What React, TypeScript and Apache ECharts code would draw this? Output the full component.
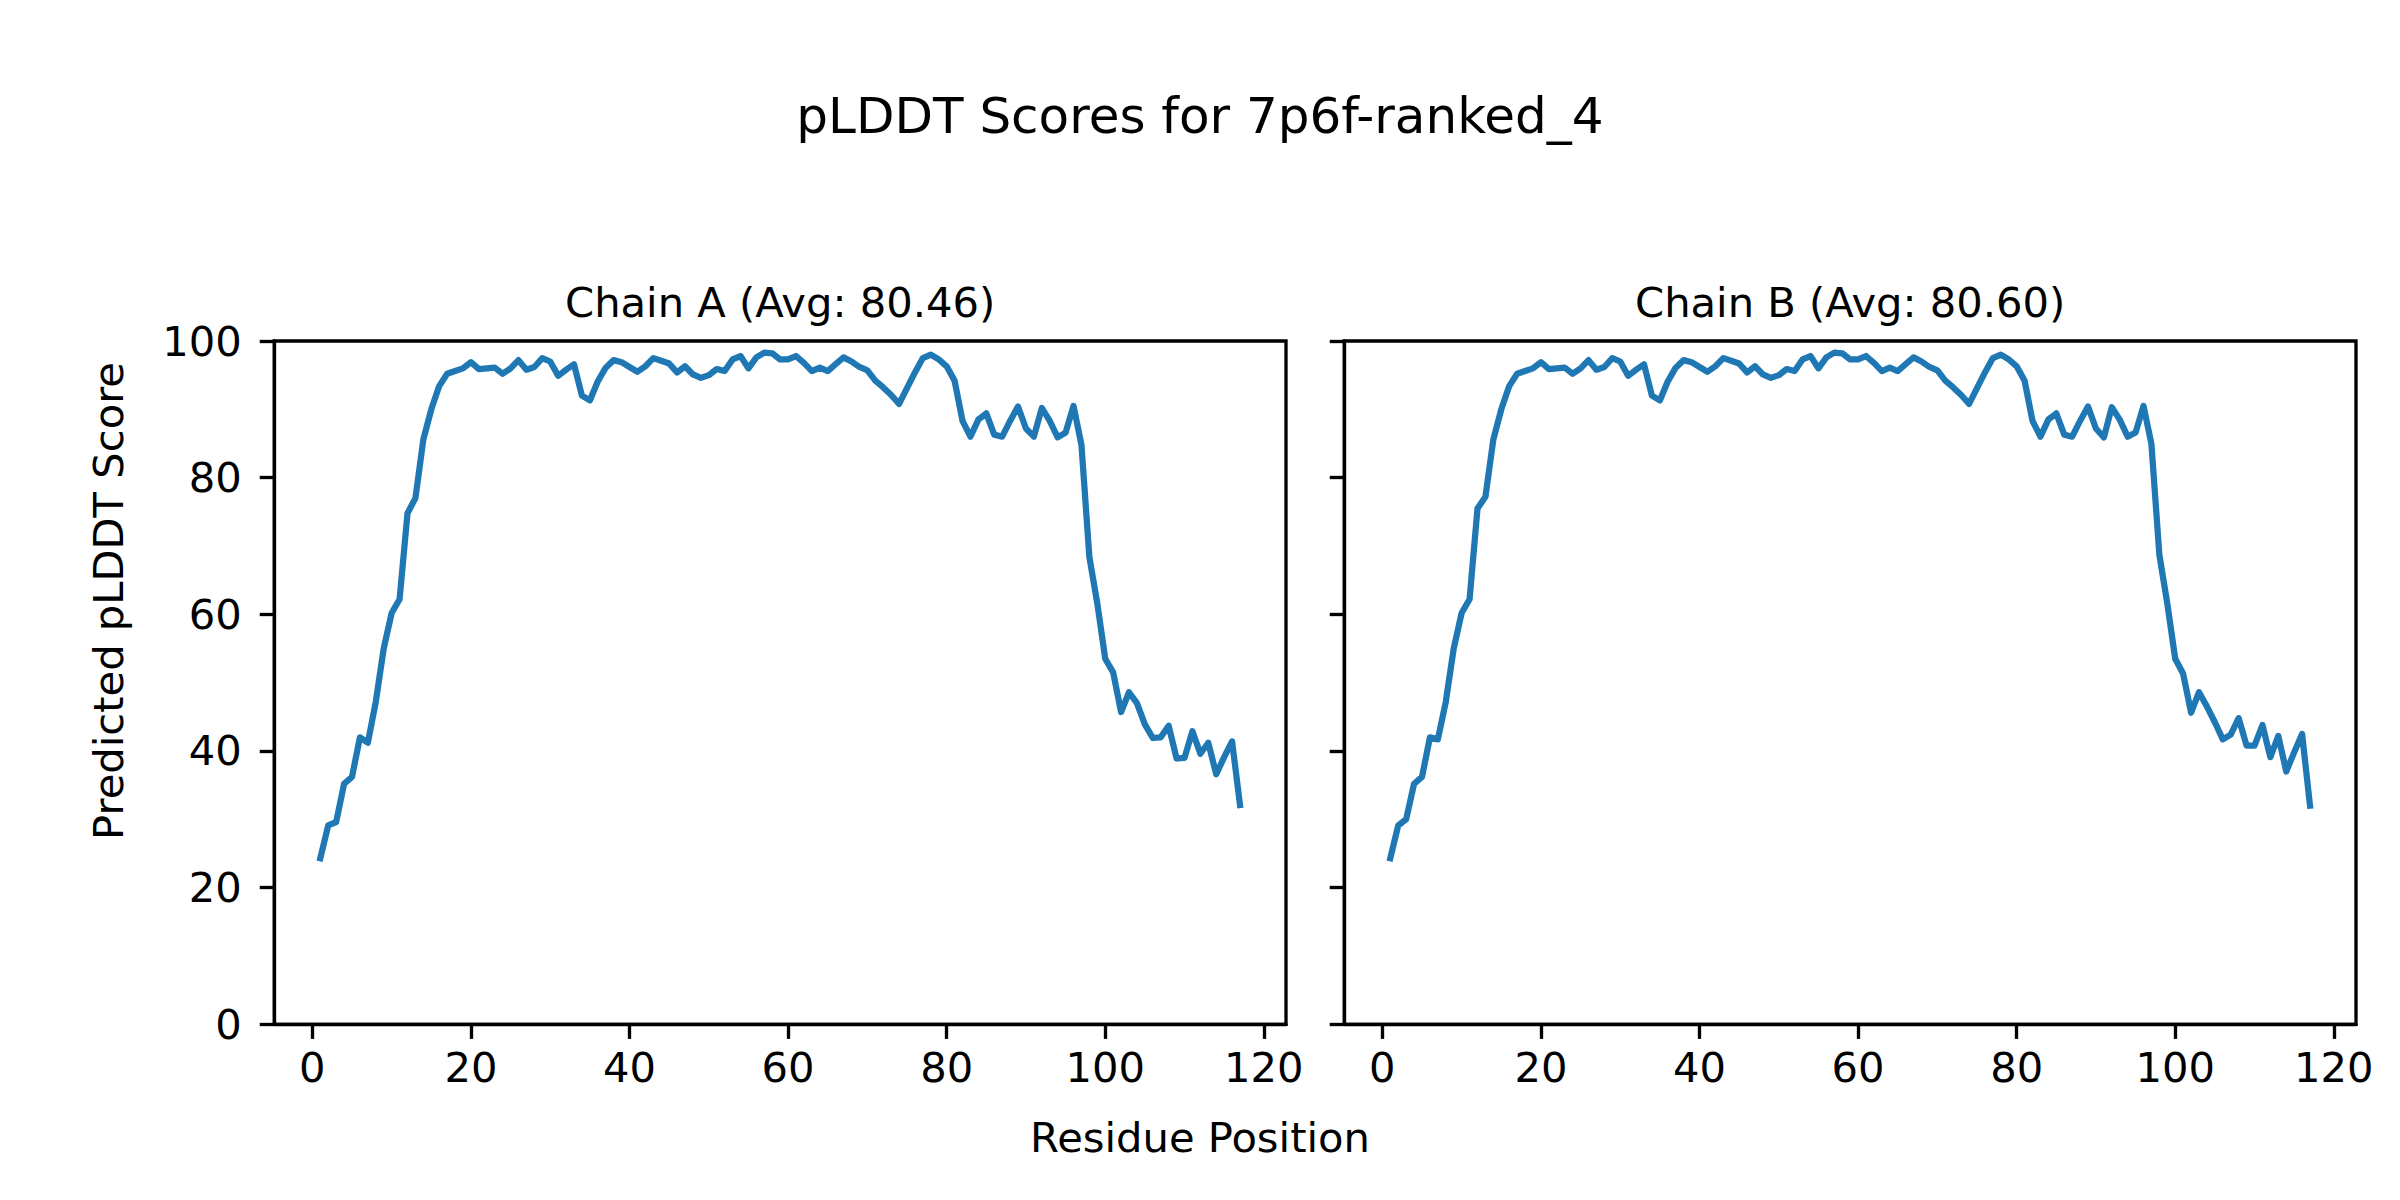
import React, { useEffect, useRef } from "react";
import * as echarts from "echarts";

const mainTitle = "pLDDT Scores for 7p6f-ranked_4";
const chainTitles = ["Chain A (Avg: 80.46)", "Chain B (Avg: 80.60)"];
const xAxisLabel = "Residue Position";
const yAxisLabel = "Predicted pLDDT Score";
const xTicks = [0, 20, 40, 60, 80, 100, 120];

const chainA = [
  24.3, 29.1, 29.6, 35.2, 36.2, 42.0, 41.2, 47.2, 55.0, 60.2,
  62.2, 74.8, 77.0, 85.6, 90.0, 93.4, 95.2, 95.6, 96.0, 96.9,
  95.9, 96.0, 96.1, 95.2, 96.0, 97.2, 95.8, 96.2, 97.5, 97.0,
  94.9, 95.8, 96.6, 92.0, 91.3, 94.1, 96.1, 97.2, 96.9, 96.2,
  95.5, 96.3, 97.5, 97.1, 96.7, 95.4, 96.3, 95.1, 94.6, 95.0,
  95.9, 95.6, 97.3, 97.8, 96.0, 97.6, 98.3, 98.2, 97.3, 97.3,
  97.8, 96.8, 95.6, 96.1, 95.6, 96.6, 97.6, 97.0, 96.2, 95.7,
  94.2, 93.2, 92.1, 90.8, 93.1, 95.4, 97.5, 98.0, 97.3, 96.3,
  94.2, 88.3, 86.0, 88.5, 89.4, 86.3, 86.0, 88.3, 90.4, 87.2,
  86.0, 90.2, 88.3, 85.9, 86.6, 90.5, 84.8, 68.4, 61.6, 53.5,
  51.5, 45.7, 48.6, 47.0, 43.9, 41.9, 42.0, 43.7, 38.9, 39.0,
  42.9, 39.6, 41.2, 36.6, 39.1, 41.4, 32.1,
];

const chainB = [
  24.3, 29.1, 30.0, 35.2, 36.2, 42.0, 41.7, 47.2, 55.0, 60.2,
  62.2, 75.5, 77.2, 85.6, 90.0, 93.4, 95.2, 95.6, 96.0, 96.9,
  95.9, 96.0, 96.1, 95.2, 96.0, 97.2, 95.8, 96.2, 97.5, 97.0,
  94.9, 95.8, 96.6, 92.0, 91.3, 94.1, 96.1, 97.2, 96.9, 96.2,
  95.5, 96.3, 97.5, 97.1, 96.7, 95.4, 96.3, 95.1, 94.6, 95.0,
  95.9, 95.6, 97.3, 97.8, 96.0, 97.6, 98.3, 98.2, 97.3, 97.3,
  97.8, 96.8, 95.6, 96.1, 95.6, 96.6, 97.6, 97.0, 96.2, 95.7,
  94.2, 93.2, 92.1, 90.8, 93.1, 95.4, 97.5, 98.0, 97.3, 96.3,
  94.2, 88.3, 86.0, 88.5, 89.4, 86.3, 86.0, 88.3, 90.4, 87.2,
  85.9, 90.3, 88.5, 86.0, 86.6, 90.5, 84.9, 68.7, 61.6, 53.5,
  51.3, 45.6, 48.6, 46.5, 44.2, 41.7, 42.4, 44.8, 40.8, 40.8,
  43.8, 39.1, 42.2, 37.0, 39.8, 42.5, 32.0,
];

const FONT = "DejaVu Sans";
const PT = 300 / 72;

export default function App() {
  const ref = useRef<HTMLDivElement>(null);

  useEffect(() => {
    document.body.style.margin = "0";
    if (!ref.current) return;
    const chart = echarts.init(ref.current, undefined, { renderer: "svg" });

    const grids = [
      { left: 274.3, top: 341, width: 1011.7, height: 683.3 },
      { left: 1344.3, top: 341, width: 1011.7, height: 683.3 },
    ];

    const tickLen = 3.5 * PT;
    const spineW = 0.8 * PT;
    const labelFont = 10 * PT;

    const mk = (vals: number[]) => vals.map((v, i) => [i + 1, v]);

    const option: any = {
      animation: false,
      backgroundColor: "#ffffff",
      grid: grids.map((g) => ({
        ...g,
        show: true,
        borderColor: "#000",
        borderWidth: spineW,
        backgroundColor: "transparent",
        containLabel: false,
      })),
      xAxis: [0, 1].map((i) => ({
        gridIndex: i,
        type: "value",
        min: -4.8,
        max: 122.8,
        splitLine: { show: false },
        axisLine: { show: true, onZero: false, lineStyle: { color: "#000", width: spineW } },
        axisTick: {
          show: true,
          length: tickLen,
          lineStyle: { color: "#000", width: spineW },
          customValues: xTicks,
        },
        axisLabel: {
          show: true,
          customValues: xTicks,
          margin: 22.6,
          fontSize: labelFont,
          lineHeight: labelFont,
          fontFamily: FONT,
          color: "#000",
        },
      })),
      yAxis: [0, 1].map((i) => ({
        gridIndex: i,
        type: "value",
        min: 0,
        max: 100,
        interval: 20,
        splitLine: { show: false },
        axisLine: { show: true, onZero: false, lineStyle: { color: "#000", width: spineW } },
        axisTick: { show: true, length: tickLen, lineStyle: { color: "#000", width: spineW } },
        axisLabel: {
          show: i === 0,
          margin: 32.6,
          fontSize: labelFont,
          lineHeight: labelFont,
          fontFamily: FONT,
          color: "#000",
        },
      })),
      series: [chainA, chainB].map((vals, i) => ({
        type: "line",
        xAxisIndex: i,
        yAxisIndex: i,
        data: mk(vals),
        showSymbol: false,
        symbol: "none",
        lineStyle: { color: "#1f77b4", width: 1.5 * PT, join: "round", cap: "square" },
      })),
      graphic: [
        {
          type: "text",
          x: 1200,
          y: 116,
          style: {
            text: mainTitle,
            fontSize: 12 * PT,
            fontFamily: FONT,
            fill: "#000",
            textAlign: "center",
            textVerticalAlign: "middle",
          },
        },
        ...chainTitles.map((t, i) => ({
          type: "text",
          x: grids[i].left + grids[i].width / 2,
          y: 302,
          style: {
            text: t,
            fontSize: labelFont,
            fontFamily: FONT,
            fill: "#000",
            textAlign: "center",
            textVerticalAlign: "middle",
          },
        })),
        {
          type: "text",
          x: 1200,
          y: 1137,
          style: {
            text: xAxisLabel,
            fontSize: labelFont,
            fontFamily: FONT,
            fill: "#000",
            textAlign: "center",
            textVerticalAlign: "middle",
          },
        },
        {
          type: "text",
          x: 108,
          y: 601,
          rotation: Math.PI / 2,
          style: {
            text: yAxisLabel,
            fontSize: labelFont,
            fontFamily: FONT,
            fill: "#000",
            textAlign: "center",
            textVerticalAlign: "middle",
          },
        },
      ],
    };

    chart.setOption(option);
    return () => chart.dispose();
  }, []);

  return (
    <div
      ref={ref}
      style={{ position: "absolute", left: 0, top: 0, width: 2400, height: 1200 }}
    />
  );
}
